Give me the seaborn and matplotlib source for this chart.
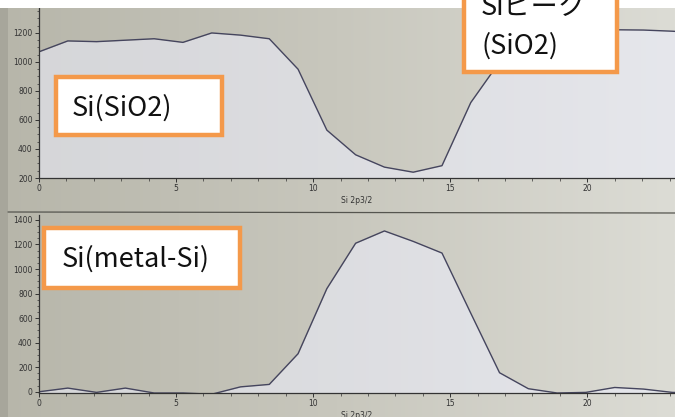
import numpy as np
import pandas as pd
import matplotlib
matplotlib.use("Agg")
import matplotlib.pyplot as plt
import seaborn as sns
from matplotlib.patches import Rectangle
from matplotlib.lines import Line2D
from matplotlib.ticker import MultipleLocator
from matplotlib.colors import LinearSegmentedColormap

# ---------------- data ----------------
depth = [0.0, 1.05, 2.1, 3.15, 4.2, 5.25, 6.3, 7.35, 8.4, 9.45, 10.5, 11.55,
         12.6, 13.65, 14.7, 15.75, 16.8, 17.85, 18.9, 19.95, 21.0, 22.05, 23.1, 24.15]
si_sio2 = [1070, 1145, 1140, 1150, 1160, 1135, 1200, 1185, 1160, 950, 530, 360,
           275, 240, 285, 720, 1000, 1170, 1215, 1220, 1222, 1220, 1212, 1200]
si_metal = [0, 30, -5, 30, -10, -10, -20, 40, 60, 310, 840, 1210,
            1310, 1225, 1130, 640, 155, 25, -10, -5, 35, 22, -5, -10]
x_label = "Si 2p3/2"
box_labels = ["Si(SiO2)", "Si(metal-Si)", "Siピーク", "(SiO2)"]

df = pd.DataFrame({"depth": depth, "SiO2": si_sio2, "metal": si_metal})

W, H = 675, 417
sns.set_theme(style="white")
plt.rcParams["font.family"] = ["DejaVu Sans"]

fig = plt.figure(figsize=(W / 100, H / 100), dpi=100)

def fx(x):
    return x / W

def fy(y):
    return 1 - y / H

# background gradient (photo of a screen)
bg = fig.add_axes([0, 0, 1, 1], zorder=-10)
grad = np.linspace(0, 1, 256)[None, :]
cm = LinearSegmentedColormap.from_list("bg", ["#b7b6aa", "#c8c7bd", "#dcdcd5"])
bg.imshow(grad, aspect="auto", cmap=cm, extent=[0, 1, 0, 1])
bg.set_axis_off()

line_c = "#45455e"
fill_c = "#eef0ff"

def style_axis(ax):
    ax.set_facecolor("none")
    for s in ["top", "right"]:
        ax.spines[s].set_visible(False)
    for s in ["left", "bottom"]:
        ax.spines[s].set_color("#333333")
        ax.spines[s].set_linewidth(0.9)
    ax.tick_params(axis="both", which="major", labelsize=5.5, colors="#333333",
                   length=3, width=0.7, direction="out", left=True, bottom=True, pad=1.5)
    ax.tick_params(axis="both", which="minor", length=1.8, width=0.5, colors="#333333",
                   left=True, bottom=True)
    ax.xaxis.set_major_locator(MultipleLocator(5))
    ax.xaxis.set_minor_locator(MultipleLocator(1))
    ax.yaxis.set_minor_locator(MultipleLocator(50))
    ax.grid(False)

# ---------------- top panel ----------------
ax1 = fig.add_axes([fx(39), fy(178), 1 - fx(39), fy(8) - fy(178)])
ax1.fill_between(df["depth"], df["SiO2"], 200, color=fill_c, alpha=0.55, lw=0)
sns.lineplot(data=df, x="depth", y="SiO2", ax=ax1, color=line_c, lw=1.0)
ax1.set_xlim(0, 23.2)
ax1.set_ylim(200, 1372)
ax1.set_yticks([200, 400, 600, 800, 1000, 1200])
ax1.set_xlabel(x_label, fontsize=5.5, color="#333333", labelpad=2)
ax1.set_ylabel("")
style_axis(ax1)

# ---------------- bottom panel ----------------
ax2 = fig.add_axes([fx(39), fy(393), 1 - fx(39), fy(215) - fy(393)])
ax2.fill_between(df["depth"], df["metal"], -10, color=fill_c, alpha=0.55, lw=0)
sns.lineplot(data=df, x="depth", y="metal", ax=ax2, color=line_c, lw=1.0)
ax2.set_xlim(0, 23.2)
ax2.set_ylim(-10, 1440)
ax2.set_yticks([0, 200, 400, 600, 800, 1000, 1200, 1400])
ax2.set_xlabel(x_label, fontsize=5.5, color="#333333", labelpad=2)
ax2.set_ylabel("")
style_axis(ax2)

# photo details: white strip top, divider between panels, dark bezel left
fig.add_artist(Rectangle((0, fy(8)), 1, 1 - fy(8), transform=fig.transFigure,
                         facecolor="white", edgecolor="none", zorder=5))
fig.add_artist(Rectangle((0, 0), fx(8), 1, transform=fig.transFigure,
                         facecolor="#a7a69b", edgecolor="none", zorder=-5))
fig.add_artist(Line2D([fx(8), 1], [fy(212), fy(213)], transform=fig.transFigure,
                      color="#55554f", lw=0.9, zorder=4))

# ---------------- annotation boxes ----------------
orange = "#f4994a"
jp = ["Noto Sans CJK JP", "DejaVu Sans"]
fs = 19.5

def box(x0, y0, x1, y1):
    fig.add_artist(Rectangle((fx(x0), fy(y1)), fx(x1) - fx(x0), fy(y0) - fy(y1),
                             transform=fig.transFigure, facecolor="white",
                             edgecolor=orange, lw=3.2, zorder=10))

box(56, 77, 222, 135)
fig.text(fx(72), fy(108), box_labels[0], fontsize=fs, family=jp, va="center",
         ha="left", color="#111111", zorder=11)

box(44, 228, 240, 288)
fig.text(fx(62), fy(259), box_labels[1], fontsize=fs, family=jp, va="center",
         ha="left", color="#111111", zorder=11)

box(464, -20, 617, 72)
fig.text(fx(481), fy(7), box_labels[2], fontsize=fs, family=jp, va="center",
         ha="left", color="#111111", zorder=11)
fig.text(fx(481), fy(46), box_labels[3], fontsize=fs, family=jp, va="center",
         ha="left", color="#111111", zorder=11)

fig.savefig("out.png", dpi=100)
